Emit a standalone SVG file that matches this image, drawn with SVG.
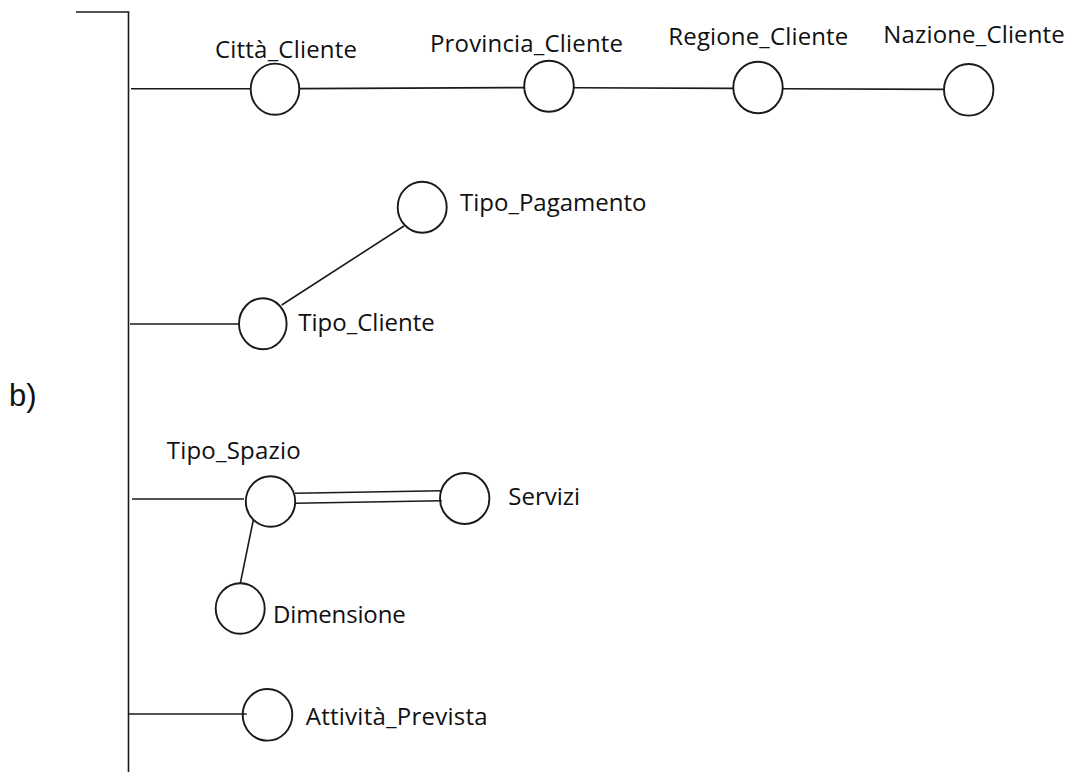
<svg xmlns="http://www.w3.org/2000/svg" width="1071" height="772" viewBox="0 0 1071 772">
  <style>
    .edge { stroke: #1a1a1a; stroke-width: 1.6; fill: none; }
    .node { stroke: #1a1a1a; stroke-width: 1.9; fill: none; }
    .lbl { font-family: "Open Sans", "Liberation Sans", sans-serif; font-size: 24px; fill: #111; }
    .tag { font-family: "Liberation Sans", Arial, sans-serif; font-size: 31px; fill: #111; }
  </style>
  <rect x="0" y="0" width="1071" height="772" fill="#ffffff"/>

  <text class="tag" x="9" y="406">b)</text>

  <!-- root bracket and branch connectors -->
  <g id="connectors">
    <polyline class="edge" points="76,12 128.5,12 128.5,772"/>
    <!-- branch 1: customer geography -->
    <line class="edge" x1="131" y1="88.7" x2="250.7" y2="88.7"/>
    <line class="edge" x1="299.3" y1="88.6" x2="524" y2="87.6"/>
    <line class="edge" x1="574" y1="87.7" x2="733.4" y2="88.4"/>
    <line class="edge" x1="782.7" y1="88.8" x2="944" y2="89.4"/>
    <!-- branch 2: customer type -->
    <line class="edge" x1="130" y1="324" x2="239.5" y2="324"/>
    <line class="edge" x1="281.7" y1="305" x2="404" y2="226"/>
    <!-- branch 3: space type -->
    <line class="edge" x1="132" y1="499" x2="244" y2="499"/>
    <line class="edge" x1="295" y1="493.3" x2="441.7" y2="490.7"/>
    <line class="edge" x1="295" y1="503.3" x2="441.7" y2="500.7"/>
    <line class="edge" x1="253.3" y1="520" x2="240.3" y2="583.3"/>
    <!-- branch 4: planned activity -->
    <line class="edge" x1="128.5" y1="714" x2="246.7" y2="714"/>
  </g>

  <g id="citta-cliente">
    <ellipse class="node" cx="275" cy="89.2" rx="24.3" ry="25.6"/>
    <text class="lbl" x="215" y="58" textLength="142">Città_Cliente</text>
  </g>
  <g id="provincia-cliente">
    <ellipse class="node" cx="549" cy="86.2" rx="24.8" ry="25.5"/>
    <text class="lbl" x="430" y="52.3" textLength="193">Provincia_Cliente</text>
  </g>
  <g id="regione-cliente">
    <ellipse class="node" cx="758" cy="87.5" rx="24.7" ry="25.8"/>
    <text class="lbl" x="668.3" y="45" textLength="180">Regione_Cliente</text>
  </g>
  <g id="nazione-cliente">
    <ellipse class="node" cx="968.7" cy="89.8" rx="24.7" ry="25.8"/>
    <text class="lbl" x="883.3" y="42.7" textLength="181.5">Nazione_Cliente</text>
  </g>

  <g id="tipo-cliente">
    <ellipse class="node" cx="262.8" cy="323.8" rx="23.8" ry="25.5"/>
    <text class="lbl" x="298.3" y="331">Tipo_Cliente</text>
  </g>
  <g id="tipo-pagamento">
    <ellipse class="node" cx="422.2" cy="207.2" rx="24.5" ry="25.5"/>
    <text class="lbl" x="460" y="210.7">Tipo_Pagamento</text>
  </g>

  <g id="tipo-spazio">
    <ellipse class="node" cx="270.5" cy="501.5" rx="24.7" ry="25.3"/>
    <text class="lbl" x="166.7" y="459" textLength="134">Tipo_Spazio</text>
  </g>
  <g id="servizi">
    <ellipse class="node" cx="464.7" cy="498.5" rx="24.7" ry="25.5"/>
    <text class="lbl" x="508.3" y="505">Servizi</text>
  </g>
  <g id="dimensione">
    <ellipse class="node" cx="240.2" cy="608.5" rx="24.5" ry="25.3"/>
    <text class="lbl" x="273" y="622.7" textLength="132.7">Dimensione</text>
  </g>

  <g id="attivita-prevista">
    <ellipse class="node" cx="267.5" cy="714.8" rx="24.8" ry="25.8"/>
    <text class="lbl" x="305.7" y="725" textLength="182">Attività_Prevista</text>
  </g>
</svg>
